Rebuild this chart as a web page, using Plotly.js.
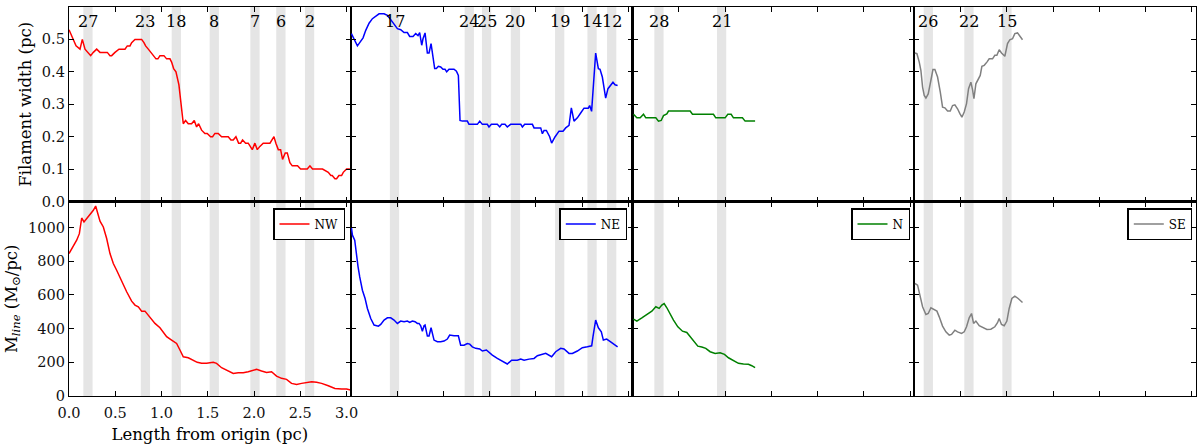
<!DOCTYPE html>
<html>
<head>
<meta charset="utf-8">
<script src="https://cdn.plot.ly/plotly-3.0.1.min.js"></script>
<style>html,body{margin:0;padding:0;background:#fff;}#chart{width:1200px;height:444px;}</style>
</head>
<body>
<div id="chart"></div>
<script>
// ---------------- DATA ----------------
const panelNames = ['NW', 'NE', 'N', 'SE'];

// NW filament
const nwWidthX = [0.0,0.076,0.119,0.144,0.173,0.234,0.263,0.299,0.335,0.414,0.443,0.461,0.497,0.540,0.605,0.630,0.659,0.677,0.713,0.785,0.810,0.828,0.857,0.882,0.911,0.940,0.961,0.983,1.026,1.055,1.091,1.109,1.131,1.156,1.188,1.210,1.235,1.260,1.289,1.325,1.354,1.379,1.401,1.433,1.469,1.494,1.530,1.552,1.577,1.613,1.649,1.721,1.750,1.775,1.804,1.833,1.855,1.876,1.909,1.937,1.963,1.981,2.009,2.035,2.063,2.099,2.172,2.193,2.215,2.236,2.262,2.287,2.308,2.337,2.359,2.387,2.413,2.470,2.503,2.575,2.604,2.632,2.740,2.802,2.830,2.845,2.874,2.892,2.917,2.946,2.964,3.000,3.036];
const nwWidth  = [0.53,0.48,0.47,0.50,0.47,0.45,0.46,0.47,0.46,0.46,0.45,0.45,0.46,0.47,0.47,0.48,0.48,0.49,0.50,0.50,0.49,0.48,0.47,0.46,0.45,0.44,0.44,0.45,0.45,0.44,0.44,0.43,0.41,0.40,0.36,0.30,0.24,0.25,0.24,0.24,0.25,0.23,0.24,0.22,0.21,0.21,0.20,0.20,0.21,0.21,0.20,0.20,0.19,0.19,0.20,0.18,0.18,0.19,0.18,0.18,0.17,0.16,0.18,0.16,0.17,0.18,0.18,0.19,0.20,0.18,0.16,0.16,0.13,0.15,0.15,0.12,0.11,0.11,0.10,0.10,0.11,0.10,0.10,0.09,0.08,0.08,0.07,0.07,0.08,0.08,0.09,0.10,0.10];
const nwMassX = [0.0,0.083,0.112,0.137,0.162,0.198,0.234,0.263,0.288,0.306,0.335,0.371,0.407,0.443,0.479,0.515,0.569,0.623,0.677,0.713,0.749,0.785,0.821,0.857,0.893,0.929,0.983,1.019,1.055,1.109,1.163,1.199,1.235,1.289,1.343,1.386,1.433,1.487,1.559,1.595,1.649,1.703,1.775,1.829,1.883,1.937,1.991,2.027,2.081,2.135,2.189,2.243,2.297,2.351,2.405,2.460,2.514,2.568,2.622,2.676,2.730,2.802,2.874,2.946,3.000,3.043];
const nwMass  = [846,925,964,1057,1034,1057,1083,1103,1128,1093,1038,1004,935,846,787,747,678,619,563,540,530,504,504,480,460,431,405,377,352,332,312,273,233,227,213,200,194,194,200,194,168,154,134,138,138,144,150,158,148,140,144,118,105,99,75,69,75,81,85,81,75,61,45,41,41,36];

// NE filament
const neWidthX = [0.007,0.036,0.072,0.097,0.133,0.162,0.198,0.234,0.270,0.306,0.360,0.396,0.432,0.468,0.504,0.540,0.576,0.612,0.637,0.673,0.702,0.727,0.745,0.767,0.781,0.803,0.828,0.846,0.868,0.907,0.925,0.947,0.972,0.997,1.019,1.037,1.062,1.116,1.142,1.163,1.181,1.206,1.260,1.278,1.368,1.394,1.422,1.476,1.494,1.520,1.584,1.610,1.631,1.667,1.692,1.728,1.837,1.855,1.880,1.963,1.981,2.053,2.071,2.089,2.114,2.150,2.171,2.207,2.251,2.294,2.323,2.359,2.384,2.413,2.449,2.485,2.521,2.567,2.582,2.603,2.647,2.676,2.694,2.719,2.755,2.780,2.809,2.834,2.856,2.884];
const neWidth  = [0.518,0.502,0.48,0.49,0.505,0.528,0.55,0.564,0.572,0.579,0.579,0.574,0.561,0.546,0.533,0.53,0.521,0.521,0.509,0.509,0.518,0.512,0.521,0.482,0.502,0.52,0.458,0.458,0.487,0.41,0.41,0.417,0.415,0.408,0.408,0.40,0.408,0.408,0.402,0.389,0.25,0.248,0.248,0.238,0.238,0.248,0.238,0.238,0.23,0.238,0.238,0.23,0.238,0.238,0.23,0.238,0.238,0.23,0.238,0.238,0.227,0.227,0.209,0.219,0.219,0.20,0.18,0.199,0.217,0.217,0.227,0.235,0.289,0.248,0.258,0.273,0.288,0.288,0.296,0.278,0.458,0.41,0.408,0.384,0.319,0.348,0.358,0.368,0.36,0.358];
const neMassX = [0.007,0.018,0.043,0.061,0.079,0.097,0.126,0.155,0.180,0.216,0.252,0.299,0.324,0.360,0.396,0.432,0.468,0.504,0.540,0.576,0.612,0.637,0.666,0.695,0.720,0.738,0.756,0.774,0.792,0.803,0.828,0.846,0.868,0.900,0.936,0.972,1.008,1.044,1.069,1.116,1.163,1.188,1.224,1.260,1.286,1.314,1.350,1.394,1.422,1.466,1.494,1.530,1.584,1.638,1.692,1.739,1.800,1.837,1.873,1.927,1.981,2.017,2.053,2.107,2.171,2.215,2.269,2.305,2.359,2.395,2.449,2.503,2.557,2.604,2.618,2.647,2.676,2.708,2.730,2.766,2.809,2.848,2.884];
const neMass  = [1000,955,925,836,767,707,628,579,520,460,421,415,425,451,464,464,451,431,445,441,445,437,445,441,431,431,417,385,417,421,356,356,405,332,322,322,326,338,362,358,358,302,302,312,308,292,283,279,267,273,259,243,223,204,190,213,213,219,213,219,223,239,243,253,233,263,283,279,253,253,267,287,292,298,352,451,405,381,332,338,322,306,292];

// N filament
const nWidthX = [0.011,0.047,0.083,0.119,0.144,0.252,0.281,0.310,0.335,0.371,0.389,0.623,0.648,0.875,0.900,1.001,1.030,1.066,1.091,1.188,1.217,1.325];
const nWidth  = [0.269,0.258,0.258,0.269,0.258,0.258,0.248,0.250,0.265,0.270,0.279,0.279,0.269,0.269,0.258,0.258,0.269,0.269,0.258,0.258,0.248,0.248];
const nMassX = [0.011,0.047,0.101,0.155,0.209,0.252,0.288,0.317,0.342,0.371,0.407,0.443,0.490,0.540,0.587,0.623,0.659,0.706,0.749,0.792,0.839,0.893,0.947,0.994,1.037,1.091,1.145,1.199,1.253,1.289,1.325];
const nMass  = [456,445,464,484,504,530,520,540,549,524,484,451,411,385,377,352,322,296,291,283,263,253,257,247,227,208,194,190,188,180,168];

// SE filament
const seWidthX = [0.007,0.029,0.054,0.072,0.090,0.108,0.126,0.151,0.180,0.202,0.223,0.252,0.281,0.306,0.331,0.360,0.389,0.414,0.439,0.468,0.493,0.515,0.540,0.565,0.587,0.612,0.630,0.645,0.666,0.695,0.713,0.731,0.756,0.785,0.810,0.846,0.871,0.893,0.918,0.943,0.979,1.008,1.033,1.062,1.087,1.116,1.145,1.170];
const seWidth  = [0.458,0.456,0.43,0.404,0.353,0.327,0.319,0.332,0.374,0.407,0.407,0.384,0.338,0.291,0.289,0.279,0.279,0.296,0.298,0.286,0.271,0.26,0.276,0.302,0.348,0.368,0.345,0.317,0.363,0.382,0.389,0.417,0.42,0.43,0.44,0.44,0.451,0.451,0.468,0.458,0.448,0.487,0.499,0.502,0.518,0.52,0.509,0.499];
const seMassX = [0.007,0.036,0.061,0.090,0.126,0.151,0.180,0.209,0.245,0.270,0.306,0.342,0.378,0.403,0.439,0.468,0.511,0.540,0.565,0.594,0.619,0.641,0.666,0.702,0.738,0.785,0.828,0.871,0.900,0.918,0.943,0.972,1.001,1.026,1.055,1.087,1.123,1.170];
const seMass  = [668,658,599,530,484,490,524,516,504,470,415,381,362,366,391,381,372,381,411,464,490,431,445,417,407,395,397,411,435,460,425,417,445,520,579,593,579,555];

// Clump positions (pc) and labels per filament
const nwClumpPos = [0.205,0.826,1.160,1.570,2.010,2.290,2.600];
const nwClumpLabel = ['27','23','18','8','7','6','2'];
const neClumpPos = [0.473,1.281,1.468,1.780,2.258,2.608,2.820];
const neClumpLabel = ['17','24','25','20','19','14','12'];
const nClumpPos = [0.286,0.963];
const nClumpLabel = ['28','21'];
const seClumpPos = [0.152,0.591,1.002];
const seClumpLabel = ['26','22','15'];

const xTickVals = [0.0,0.5,1.0,1.5,2.0,2.5,3.0];
const widthTickVals = [0.0,0.1,0.2,0.3,0.4,0.5,0.6];
const massTickVals = [0,200,400,600,800,1000];

// ---------------- BUILD ----------------
const series = [
  {wx: nwWidthX, w: nwWidth, mx: nwMassX, m: nwMass, cp: nwClumpPos, cl: nwClumpLabel, color: 'red'},
  {wx: neWidthX, w: neWidth, mx: neMassX, m: neMass, cp: neClumpPos, cl: neClumpLabel, color: 'blue'},
  {wx: nWidthX,  w: nWidth,  mx: nMassX,  m: nMass,  cp: nClumpPos,  cl: nClumpLabel,  color: '#008000'},
  {wx: seWidthX, w: seWidth, mx: seMassX, m: seMass, cp: seClumpPos, cl: seClumpLabel, color: '#808080'}
];

const FONT = 'DejaVu Serif';
const traces = [];
const shapes = [];
const annotations = [];
const layout = {
  width: 1200, height: 444,
  margin: {l: 69, r: 4, t: 7, b: 48},
  paper_bgcolor: '#ffffff',
  plot_bgcolor: 'rgba(0,0,0,0)',
  font: {family: FONT, size: 14, color: '#000'},
  shapes: shapes,
  annotations: annotations
};

const splitY = 0.5;
const legendRightPx = [345, 627.3, 910, 1192.3];
const plotW = 1200 - 69 - 4, plotH = 444 - 7 - 48;

function axisBase() {
  return {
    showline: true, linecolor: '#000', linewidth: 1.2, mirror: 'ticks',
    ticks: 'inside', ticklen: 5, tickwidth: 1, tickcolor: '#000',
    showgrid: false, zeroline: false,
    tickfont: {family: FONT, size: 14.5, color: '#111'}
  };
}

series.forEach((s, i) => {
  const topN = i + 1, botN = i + 5;
  const xt = topN === 1 ? 'x' : 'x' + topN;
  const yt = topN === 1 ? 'y' : 'y' + topN;
  const xb = 'x' + botN, yb = 'y' + botN;
  const xtKey = topN === 1 ? 'xaxis' : 'xaxis' + topN;
  const ytKey = topN === 1 ? 'yaxis' : 'yaxis' + topN;
  const dom = [i * 0.25, (i + 1) * 0.25];

  layout[xtKey] = Object.assign(axisBase(), {domain: dom, anchor: yt, range: [0, 3.045],
    tickvals: xTickVals, showticklabels: false});
  layout[ytKey] = Object.assign(axisBase(), {domain: [splitY, 1], anchor: xt, range: [0, 0.6],
    tickvals: widthTickVals, tickformat: '.1f', showticklabels: i === 0});
  layout['xaxis' + botN] = Object.assign(axisBase(), {domain: dom, anchor: yb, range: [0, 3.045],
    tickvals: xTickVals, tickformat: '.1f', showticklabels: i === 0, ticklabelstandoff: 3});
  layout['yaxis' + botN] = Object.assign(axisBase(), {domain: [0, splitY], anchor: xb, range: [0, 1155],
    tickvals: massTickVals, showticklabels: i === 0});

  if (i === 0) {
    layout[ytKey].title = {text: 'Filament width (pc)', font: {family: FONT, size: 16.5}, standoff: 6};
    layout['yaxis' + botN].title = {text: 'M<sub><i>line</i></sub> (M<sub>⊙</sub>/pc)', font: {family: FONT, size: 16.5}, standoff: 6};
    layout['xaxis' + botN].title = {text: 'Length from origin (pc)', font: {family: FONT, size: 16.5}, standoff: 8};
  }

  const legKey = i === 0 ? 'legend' : 'legend' + (i + 1);
  const legRef = i === 0 ? 'legend' : 'legend' + (i + 1);
  layout[legKey] = {
    x: (legendRightPx[i] - 69) / plotW, xanchor: 'right',
    y: 1 - (208 - 7) / plotH, yanchor: 'top',
    bgcolor: '#fff', bordercolor: '#000', borderwidth: 1.5,
    font: {family: FONT, size: 12, color: '#000'},
    itemwidth: 30, tracegroupgap: 0
  };

  traces.push({x: s.wx, y: s.w, xaxis: xt, yaxis: yt, type: 'scatter', mode: 'lines',
    line: {color: s.color, width: 1.5}, showlegend: false, hoverinfo: 'skip'});
  traces.push({x: s.mx, y: s.m, xaxis: xb, yaxis: yb, type: 'scatter', mode: 'lines',
    line: {color: s.color, width: 1.5}, name: panelNames[i], legend: legRef, showlegend: true, hoverinfo: 'skip'});

  s.cp.forEach((c, k) => {
    [[xt, yt], [xb, yb]].forEach(([xr, yr]) => {
      shapes.push({type: 'rect', xref: xr, yref: yr + ' domain', x0: c - 0.05, x1: c + 0.05, y0: 0, y1: 1,
        fillcolor: '#e5e5e5', line: {width: 0}, layer: 'below'});
    });
    annotations.push({xref: xt, yref: yt, x: c, y: 0.555, text: s.cl[k], showarrow: false,
      font: {family: FONT, size: 16, color: '#000'}, xanchor: 'center', yanchor: 'middle'});
  });
});

Plotly.newPlot('chart', traces, layout, {staticPlot: true, displayModeBar: false});
</script>
</body>
</html>
